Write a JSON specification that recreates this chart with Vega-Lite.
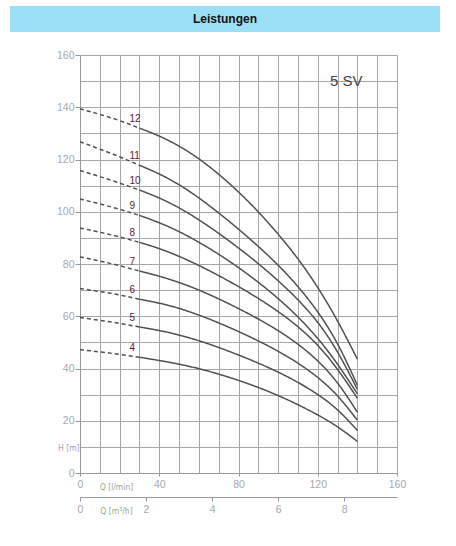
{
  "$schema": "https://vega.github.io/schema/vega-lite/v6.json",
  "padding": {"left": 10, "top": 6, "right": 6, "bottom": 6},
  "background": "white",
  "spacing": 18,
  "config": {"view": {"stroke": null}, "font": "Liberation Sans"},
  "datasets": {
    "curves": [
      {"n": "12", "part": "dashed", "Q": 0, "H": 139.4}, {"n": "12", "part": "dashed", "Q": 10, "H": 137.3}, {"n": "12", "part": "dashed", "Q": 20, "H": 135}, {"n": "12", "part": "dashed", "Q": 30, "H": 132},
      {"n": "12", "part": "solid", "Q": 30, "H": 132}, {"n": "12", "part": "solid", "Q": 40, "H": 129.1}, {"n": "12", "part": "solid", "Q": 50, "H": 125.3}, {"n": "12", "part": "solid", "Q": 60, "H": 120.4}, {"n": "12", "part": "solid", "Q": 70, "H": 114.5}, {"n": "12", "part": "solid", "Q": 80, "H": 107.7}, {"n": "12", "part": "solid", "Q": 90, "H": 100.1}, {"n": "12", "part": "solid", "Q": 100, "H": 91.6}, {"n": "12", "part": "solid", "Q": 110, "H": 82.2}, {"n": "12", "part": "solid", "Q": 120, "H": 71.3}, {"n": "12", "part": "solid", "Q": 130, "H": 58.5}, {"n": "12", "part": "solid", "Q": 140, "H": 43.6},
      {"n": "11", "part": "dashed", "Q": 0, "H": 126.8}, {"n": "11", "part": "dashed", "Q": 10, "H": 124}, {"n": "11", "part": "dashed", "Q": 20, "H": 121.1}, {"n": "11", "part": "dashed", "Q": 30, "H": 117.8},
      {"n": "11", "part": "solid", "Q": 30, "H": 117.8}, {"n": "11", "part": "solid", "Q": 40, "H": 114.6}, {"n": "11", "part": "solid", "Q": 50, "H": 110.5}, {"n": "11", "part": "solid", "Q": 60, "H": 105.4}, {"n": "11", "part": "solid", "Q": 70, "H": 99.6}, {"n": "11", "part": "solid", "Q": 80, "H": 93.4}, {"n": "11", "part": "solid", "Q": 90, "H": 86.8}, {"n": "11", "part": "solid", "Q": 100, "H": 79.7}, {"n": "11", "part": "solid", "Q": 110, "H": 71.6}, {"n": "11", "part": "solid", "Q": 120, "H": 62}, {"n": "11", "part": "solid", "Q": 130, "H": 50.2}, {"n": "11", "part": "solid", "Q": 140, "H": 33.6},
      {"n": "10", "part": "dashed", "Q": 0, "H": 115.8}, {"n": "10", "part": "dashed", "Q": 10, "H": 113.5}, {"n": "10", "part": "dashed", "Q": 20, "H": 111}, {"n": "10", "part": "dashed", "Q": 30, "H": 108.3},
      {"n": "10", "part": "solid", "Q": 30, "H": 108.3}, {"n": "10", "part": "solid", "Q": 40, "H": 105.4}, {"n": "10", "part": "solid", "Q": 50, "H": 101.6}, {"n": "10", "part": "solid", "Q": 60, "H": 97}, {"n": "10", "part": "solid", "Q": 70, "H": 91.8}, {"n": "10", "part": "solid", "Q": 80, "H": 86.2}, {"n": "10", "part": "solid", "Q": 90, "H": 80.2}, {"n": "10", "part": "solid", "Q": 100, "H": 73.7}, {"n": "10", "part": "solid", "Q": 110, "H": 66.5}, {"n": "10", "part": "solid", "Q": 120, "H": 58.1}, {"n": "10", "part": "solid", "Q": 130, "H": 46.9}, {"n": "10", "part": "solid", "Q": 140, "H": 32},
      {"n": "9", "part": "dashed", "Q": 0, "H": 104.9}, {"n": "9", "part": "dashed", "Q": 10, "H": 103}, {"n": "9", "part": "dashed", "Q": 20, "H": 101}, {"n": "9", "part": "dashed", "Q": 30, "H": 98.6},
      {"n": "9", "part": "solid", "Q": 30, "H": 98.6}, {"n": "9", "part": "solid", "Q": 40, "H": 95.9}, {"n": "9", "part": "solid", "Q": 50, "H": 92.5}, {"n": "9", "part": "solid", "Q": 60, "H": 88.4}, {"n": "9", "part": "solid", "Q": 70, "H": 83.8}, {"n": "9", "part": "solid", "Q": 80, "H": 78.7}, {"n": "9", "part": "solid", "Q": 90, "H": 73.1}, {"n": "9", "part": "solid", "Q": 100, "H": 66.9}, {"n": "9", "part": "solid", "Q": 110, "H": 59.9}, {"n": "9", "part": "solid", "Q": 120, "H": 51.8}, {"n": "9", "part": "solid", "Q": 130, "H": 41.9}, {"n": "9", "part": "solid", "Q": 140, "H": 30.3},
      {"n": "8", "part": "dashed", "Q": 0, "H": 93.8}, {"n": "8", "part": "dashed", "Q": 10, "H": 92.2}, {"n": "8", "part": "dashed", "Q": 20, "H": 90.4}, {"n": "8", "part": "dashed", "Q": 30, "H": 88.3},
      {"n": "8", "part": "solid", "Q": 30, "H": 88.3}, {"n": "8", "part": "solid", "Q": 40, "H": 86}, {"n": "8", "part": "solid", "Q": 50, "H": 83}, {"n": "8", "part": "solid", "Q": 60, "H": 79.5}, {"n": "8", "part": "solid", "Q": 70, "H": 75.6}, {"n": "8", "part": "solid", "Q": 80, "H": 71.4}, {"n": "8", "part": "solid", "Q": 90, "H": 66.9}, {"n": "8", "part": "solid", "Q": 100, "H": 61.9}, {"n": "8", "part": "solid", "Q": 110, "H": 56.2}, {"n": "8", "part": "solid", "Q": 120, "H": 49.2}, {"n": "8", "part": "solid", "Q": 130, "H": 40}, {"n": "8", "part": "solid", "Q": 140, "H": 28.6},
      {"n": "7", "part": "dashed", "Q": 0, "H": 82.7}, {"n": "7", "part": "dashed", "Q": 10, "H": 81.2}, {"n": "7", "part": "dashed", "Q": 20, "H": 79.4}, {"n": "7", "part": "dashed", "Q": 30, "H": 77.3},
      {"n": "7", "part": "solid", "Q": 30, "H": 77.3}, {"n": "7", "part": "solid", "Q": 40, "H": 75.4}, {"n": "7", "part": "solid", "Q": 50, "H": 73}, {"n": "7", "part": "solid", "Q": 60, "H": 70.1}, {"n": "7", "part": "solid", "Q": 70, "H": 66.7}, {"n": "7", "part": "solid", "Q": 80, "H": 63}, {"n": "7", "part": "solid", "Q": 90, "H": 59}, {"n": "7", "part": "solid", "Q": 100, "H": 54.6}, {"n": "7", "part": "solid", "Q": 110, "H": 49.5}, {"n": "7", "part": "solid", "Q": 120, "H": 43.2}, {"n": "7", "part": "solid", "Q": 130, "H": 35}, {"n": "7", "part": "solid", "Q": 140, "H": 23.3},
      {"n": "6", "part": "dashed", "Q": 0, "H": 70.6}, {"n": "6", "part": "dashed", "Q": 10, "H": 69.5}, {"n": "6", "part": "dashed", "Q": 20, "H": 68.2}, {"n": "6", "part": "dashed", "Q": 30, "H": 66.5},
      {"n": "6", "part": "solid", "Q": 30, "H": 66.5}, {"n": "6", "part": "solid", "Q": 40, "H": 65.1}, {"n": "6", "part": "solid", "Q": 50, "H": 63.1}, {"n": "6", "part": "solid", "Q": 60, "H": 60.5}, {"n": "6", "part": "solid", "Q": 70, "H": 57.5}, {"n": "6", "part": "solid", "Q": 80, "H": 54.2}, {"n": "6", "part": "solid", "Q": 90, "H": 50.6}, {"n": "6", "part": "solid", "Q": 100, "H": 46.7}, {"n": "6", "part": "solid", "Q": 110, "H": 42.2}, {"n": "6", "part": "solid", "Q": 120, "H": 36.8}, {"n": "6", "part": "solid", "Q": 130, "H": 30}, {"n": "6", "part": "solid", "Q": 140, "H": 20.2},
      {"n": "5", "part": "dashed", "Q": 0, "H": 59.5}, {"n": "5", "part": "dashed", "Q": 10, "H": 58.5}, {"n": "5", "part": "dashed", "Q": 20, "H": 57.3}, {"n": "5", "part": "dashed", "Q": 30, "H": 55.9},
      {"n": "5", "part": "solid", "Q": 30, "H": 55.9}, {"n": "5", "part": "solid", "Q": 40, "H": 54.6}, {"n": "5", "part": "solid", "Q": 50, "H": 52.9}, {"n": "5", "part": "solid", "Q": 60, "H": 50.7}, {"n": "5", "part": "solid", "Q": 70, "H": 48.1}, {"n": "5", "part": "solid", "Q": 80, "H": 45.2}, {"n": "5", "part": "solid", "Q": 90, "H": 42.1}, {"n": "5", "part": "solid", "Q": 100, "H": 38.7}, {"n": "5", "part": "solid", "Q": 110, "H": 34.8}, {"n": "5", "part": "solid", "Q": 120, "H": 30.2}, {"n": "5", "part": "solid", "Q": 130, "H": 24.6}, {"n": "5", "part": "solid", "Q": 140, "H": 16.3},
      {"n": "4", "part": "dashed", "Q": 0, "H": 47.2}, {"n": "4", "part": "dashed", "Q": 10, "H": 46.4}, {"n": "4", "part": "dashed", "Q": 20, "H": 45.4}, {"n": "4", "part": "dashed", "Q": 30, "H": 44.3},
      {"n": "4", "part": "solid", "Q": 30, "H": 44.3}, {"n": "4", "part": "solid", "Q": 40, "H": 43.1}, {"n": "4", "part": "solid", "Q": 50, "H": 41.7}, {"n": "4", "part": "solid", "Q": 60, "H": 40}, {"n": "4", "part": "solid", "Q": 70, "H": 37.9}, {"n": "4", "part": "solid", "Q": 80, "H": 35.5}, {"n": "4", "part": "solid", "Q": 90, "H": 32.8}, {"n": "4", "part": "solid", "Q": 100, "H": 29.7}, {"n": "4", "part": "solid", "Q": 110, "H": 26.2}, {"n": "4", "part": "solid", "Q": 120, "H": 22.3}, {"n": "4", "part": "solid", "Q": 130, "H": 17.9}, {"n": "4", "part": "solid", "Q": 140, "H": 12.1}
    ]
  },
  "vconcat": [
    {
      "width": 430,
      "height": 26,
      "view": {"fill": "#9ce0f6", "stroke": null},
      "data": {"values": [{"title": "Leistungen"}]},
      "mark": {"type": "text", "fontWeight": "bold", "fontSize": 12, "font": "Liberation Sans", "color": "#111111"},
      "encoding": {"text": {"field": "title"}}
    },
    {
      "concat": [
        {
          "width": 40,
          "height": 10,
          "data": {"values": [{}]},
          "mark": {"type": "point", "opacity": 0}
        },
        {
          "width": 317,
          "height": 418,
          "data": {"name": "curves"},
          "layer": [
            {
              "mark": {"type": "point", "opacity": 0},
              "encoding": {
                "x": {"field": "Q", "type": "quantitative", "scale": {"domain": [0, 160], "nice": false},
                  "axis": {"orient": "top", "values": [0, 10, 20, 30, 40, 50, 60, 70, 80, 90, 100, 110, 120, 130, 140, 150, 160],
                    "grid": true, "gridColor": "#a6a6a6", "gridWidth": 1, "gridOpacity": 1,
                    "labels": false, "ticks": false, "domain": false, "title": null}},
                "y": {"field": "H", "type": "quantitative", "scale": {"domain": [0, 160], "nice": false},
                  "axis": {"orient": "right", "values": [0, 10, 20, 30, 40, 50, 60, 70, 80, 90, 100, 110, 120, 130, 140, 150, 160],
                    "grid": true, "gridColor": "#a6a6a6", "gridWidth": 1, "gridOpacity": 1,
                    "labels": false, "ticks": false, "domain": false, "title": null}}
              }
            },
            {
              "layer": [
                {
                  "mark": {"type": "line", "interpolate": "basis", "color": "#505050", "strokeWidth": 1.5},
                  "encoding": {
                    "x": {"field": "Q", "type": "quantitative", "scale": {"domain": [0, 160], "nice": false},
                      "axis": {
                        "orient": "bottom", "values": [0, 40, 80, 120, 160], "grid": false,
                        "domainColor": "#999999", "tickColor": "#999999", "tickSize": 3,
                        "labelColor": "#a5a9b0", "labelFontSize": 10.5, "labelPadding": 3, "labelFlush": false, "labelOverlap": false,
                        "title": "Q [l/min]", "titleX": 36, "titleY": 13, "titleAngle": 0, "titleAlign": "center", "titleBaseline": "middle",
                        "titleFont": "'DejaVu Sans Condensed', 'Liberation Sans', sans-serif", "titleFontSize": 8.5, "titleFontWeight": "normal", "titleColor": "#ab9d8f"
                      }},
                    "y": {"field": "H", "type": "quantitative", "scale": {"domain": [0, 160], "nice": false},
                      "axis": {
                        "orient": "left", "values": [0, 20, 40, 60, 80, 100, 120, 140, 160], "grid": false,
                        "domainColor": "#999999", "tickColor": "#999999", "tickSize": 5,
                        "labelColor": "#a5a9b0", "labelFontSize": 10.5, "labelPadding": 1, "labelFlush": false, "labelOverlap": false,
                        "minExtent": 30,
                        "title": "H [m]", "titleX": -11.7, "titleY": 392.8, "titleAngle": 0, "titleAlign": "center", "titleBaseline": "middle",
                        "titleFont": "'DejaVu Sans Condensed', 'Liberation Sans', sans-serif", "titleFontSize": 8.5, "titleFontWeight": "normal", "titleColor": "#9ea3b5"
                      }},
                    "detail": {"field": "n"},
                    "strokeDash": {"field": "part", "type": "nominal", "scale": {"domain": ["solid", "dashed"], "range": [[1, 0], [4, 3]]}, "legend": null}
                  }
                },
                {
                  "transform": [{"filter": "datum.part == 'solid' && datum.Q == 30"}],
                  "mark": {"type": "text", "align": "left", "baseline": "middle", "dx": -10, "dy": -9, "fontSize": 10, "color": "#5b2333"},
                  "encoding": {
                    "x": {"field": "Q", "type": "quantitative"},
                    "y": {"field": "H", "type": "quantitative"},
                    "text": {"field": "n"}
                  }
                },
                {
                  "data": {"values": [{"label": "5 SV", "Q": 134.4, "H": 150}]},
                  "mark": {"type": "text", "fontSize": 15, "color": "#444444", "baseline": "middle", "align": "center"},
                  "encoding": {
                    "x": {"field": "Q", "type": "quantitative"},
                    "y": {"field": "H", "type": "quantitative"},
                    "text": {"field": "label"}
                  }
                }
              ]
            },
            {
              "mark": {"type": "point", "opacity": 0},
              "encoding": {
                "x": {"field": "Q", "type": "quantitative", "scale": {"domain": [0, 160], "nice": false},
                  "axis": {
                    "orient": "bottom", "offset": 24,
                    "values": [0, 33.33333, 66.66667, 100, 133.33333],
                    "labelExpr": "format(datum.value * 0.06, 'd')",
                    "grid": false, "domainColor": "#999999", "tickColor": "#999999", "tickSize": 4,
                    "labelColor": "#a5a9b0", "labelFontSize": 10.5, "labelPadding": 3, "labelFlush": false, "labelOverlap": false,
                    "title": "Q [m³/h]", "titleX": 36, "titleY": 13, "titleAngle": 0, "titleAlign": "center", "titleBaseline": "middle",
                    "titleFont": "'DejaVu Sans Condensed', 'Liberation Sans', sans-serif", "titleFontSize": 8.5, "titleFontWeight": "normal", "titleColor": "#98a88e"
                  }}
              }
            }
          ],
          "resolve": {"scale": {"x": "independent", "y": "independent"}}
        }
      ],
      "columns": 2,
      "align": "none",
      "spacing": 0
    }
  ]
}
